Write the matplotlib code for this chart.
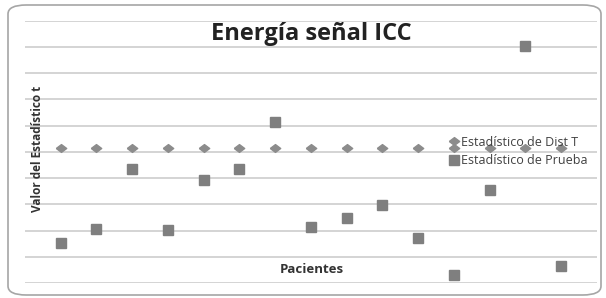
import matplotlib.pyplot as plt
from matplotlib.patches import FancyBboxPatch

# datos
pacientes = list(range(1, 16))
dist_t = [5.14, 5.14, 5.14, 5.14, 5.14, 5.14, 5.14, 5.14, 5.14, 5.14, 5.14, 5.14, 5.14, 5.14, 5.14]
prueba = [1.51, 2.06, 4.33, 2.02, 3.93, 4.33, 6.15, 2.15, 2.47, 2.97, 1.70, 0.30, 3.55, 9.05, 0.65]

W, H = 606, 298
fig = plt.figure(figsize=(W / 100, H / 100), dpi=100)
fig.patch.set_facecolor('white')

# borde redondeado del grafico
border = FancyBboxPatch((8 / W, 3 / H), 593 / W, 290 / H,
                        boxstyle="round,pad=0,rounding_size=0.03",
                        transform=fig.transFigure, fill=False,
                        edgecolor='#a6a6a6', linewidth=1.2)
fig.patches.append(border)

# area de trazado
ax = fig.add_axes([25 / W, (H - 283) / H, 571.7 / W, 262.3 / H])
ax.set_xlim(0, 16)
ax.set_ylim(0, 10)
for s in ax.spines.values():
    s.set_visible(False)
ax.set_yticks(range(0, 11))
ax.set_xticks([])
ax.tick_params(left=False, labelleft=False)
ax.grid(axis='y', color='#d4d4d4', linewidth=1.4)
ax.set_axisbelow(True)

diamond = [(-1, 0), (0, 0.75), (1, 0), (0, -0.75), (-1, 0)]
ax.plot(pacientes, dist_t, linestyle='none', marker=diamond, markersize=7.5,
        color='#8c8c8c', label='Estadístico de Dist T', clip_on=False)
ax.plot(pacientes, prueba, linestyle='none', marker='s', markersize=6.8,
        color='#7f7f7f', label='Estadístico de Prueba', clip_on=False)

fam = ['Open Sans', 'DejaVu Sans']
ax.text(0.5, 0.95, 'Energía señal ICC', transform=ax.transAxes, ha='center', va='center',
        fontsize=17, fontweight='bold', family=fam, color='#222222')
ax.text(0.502, 0.05, 'Pacientes', transform=ax.transAxes, ha='center', va='center',
        fontsize=9.5, fontweight='bold', family=fam, color='#333333')
ax.text(0.021, 0.51, 'Valor del Estadístico t', transform=ax.transAxes, rotation=90,
        ha='center', va='center', fontsize=8.5, fontweight='bold', family=fam,
        color='#333333')

leg = ax.legend(loc='upper left', bbox_to_anchor=(0.735, 0.58), frameon=False,
                prop={'family': fam, 'size': 9}, handlelength=0.6,
                handletextpad=0.3, labelspacing=0.45, borderaxespad=0)
for t in leg.get_texts():
    t.set_color('#404040')

fig.savefig('out.png', dpi=100)
